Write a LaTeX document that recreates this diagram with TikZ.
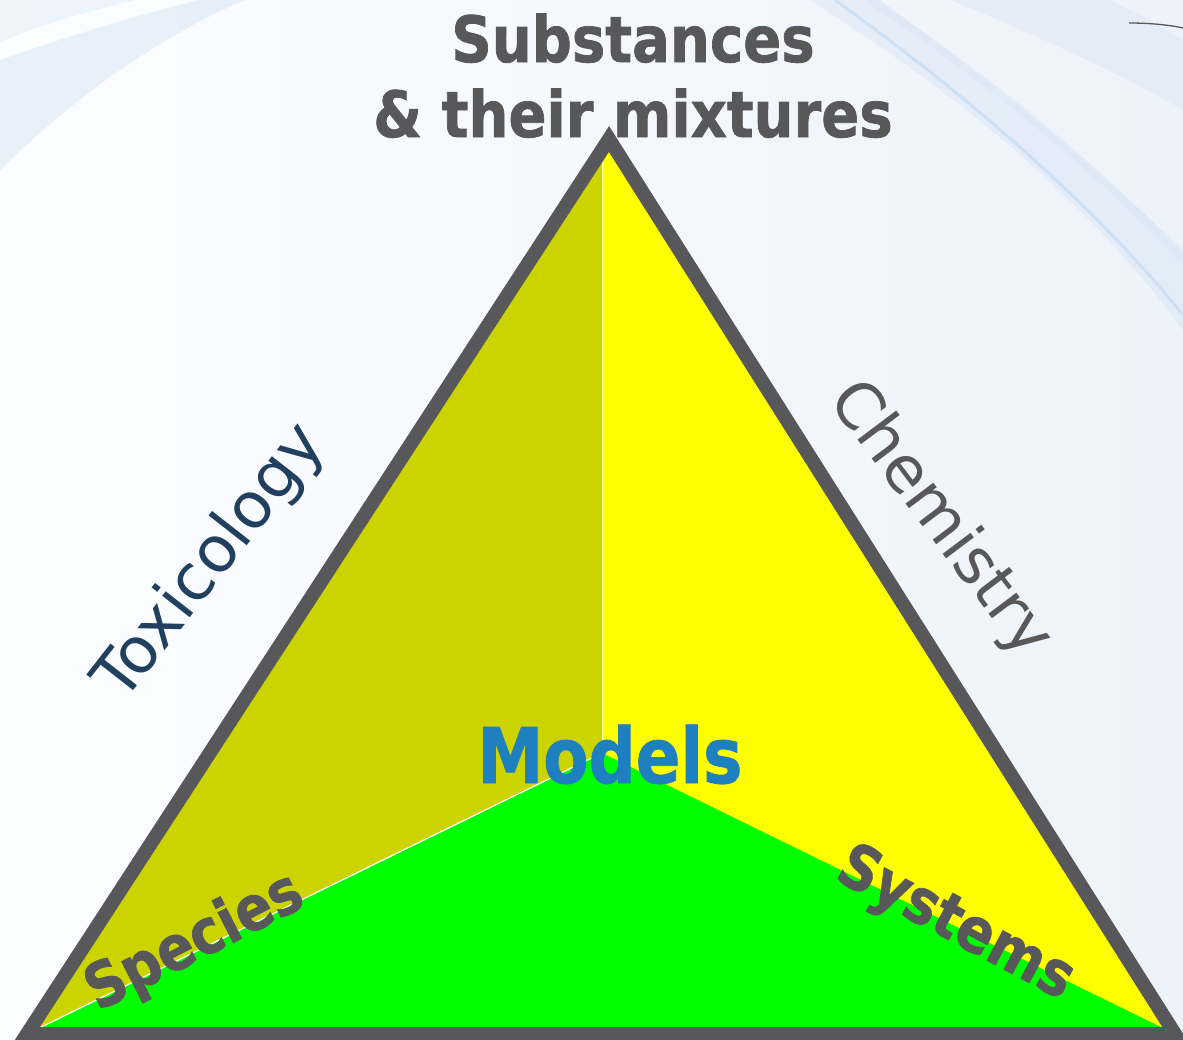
\documentclass[tikz,border=0pt]{standalone}
\usepackage{fontspec}
\usepackage{graphicx}
\setmainfont{DejaVu Sans}
\newfontfamily\heavyfont{DejaVu Sans}[BoldFeatures={FakeBold=1.2}]
\definecolor{edgegray}{HTML}{58585A}
\definecolor{olive}{HTML}{CCD400}
\definecolor{faceyellow}{HTML}{FFFF00}
\definecolor{facegreen}{HTML}{00FF00}
\definecolor{modelblue}{HTML}{1F80C0}
\definecolor{toxnavy}{HTML}{213F5F}
\definecolor{bgleft}{HTML}{FCFDFF}
\definecolor{bgright}{HTML}{EDF3FA}
\definecolor{swoosh}{HTML}{DCE8F6}
\definecolor{swooshdark}{HTML}{C6DBF2}
\newcommand{\narrow}[1]{\scalebox{0.88}[1]{#1}}
\tikzset{
  boldlabel/.style={font=\heavyfont\bfseries\fontsize{64}{75}\selectfont, text=edgegray, inner sep=0pt},
  sidelabel/.style={font=\fontsize{64}{70}\selectfont, inner sep=0pt},
  cornerlabel/.style={font=\heavyfont\bfseries\fontsize{62}{66}\selectfont, text=edgegray, inner sep=0pt},
}
\begin{document}
\begin{tikzpicture}[x=1bp,y=-1bp]
\useasboundingbox (0,0) rectangle (1183,1040);
% background
\shade[left color=bgleft, right color=bgright] (0,0) rectangle (1183,1040);
% swooshes top-left
\fill[swoosh, opacity=0.6] (0,60) .. controls (80,32) and (150,12) .. (200,0) -- (245,0) .. controls (150,40) and (60,110) .. (0,170) -- cycle;
\fill[swoosh, opacity=0.4] (0,0) -- (135,0) .. controls (85,12) and (40,25) .. (0,42) -- cycle;
% swooshes top-right
\fill[swoosh, opacity=0.6] (810,0) .. controls (950,90) and (1080,190) .. (1183,330) -- (1183,250) .. controls (1080,150) and (960,60) .. (880,0) -- cycle;
\fill[swoosh, opacity=0.5] (950,0) .. controls (1050,40) and (1130,80) .. (1183,110) -- (1183,40) .. controls (1150,20) .. (1110,0) -- cycle;
\draw[swooshdark, line width=3, opacity=0.7] (835,0) .. controls (960,90) and (1090,200) .. (1183,315);
\draw[swoosh, line width=8, opacity=0.6] (870,0) .. controls (990,80) and (1100,170) .. (1183,260);
% small arc top right
\draw[edgegray, line width=1.3] (1129,23) .. controls (1150,23) and (1170,25) .. (1183,28);
% triangle faces
\coordinate (A) at (609,139);
\coordinate (B) at (27,1034);
\coordinate (C) at (1175,1034);
\coordinate (M) at (602,753);
\begin{scope}
  \clip (A) -- (B) -- (C) -- cycle;
  \fill[faceyellow] (A) -- (B) -- (C) -- cycle;
  \fill[olive] (602,100) -- (602,753) -- (B) -- (0,1040) -- (0,100) -- cycle;
  \fill[facegreen] (B) -- (M) -- (C) -- cycle;
  \draw[white, line width=1.2] (B) -- (M);
  \draw[white!60!faceyellow, line width=1] (602,100) -- (M);
\end{scope}
\draw[edgegray, line width=14, line join=miter, miter limit=10] (A) -- (B) -- (C) -- cycle;
% labels
\node[boldlabel, anchor=base] (sub) at (633,62) {\narrow{Substances}};
\node[boldlabel, anchor=base] (mix) at (633,137) {\narrow{\& their mixtures}};
\node[sidelabel, text=toxnavy, rotate=52] (tox) at (211,563) {Toxicology};
\node[sidelabel, text=edgegray, rotate=-53] (chem) at (940,520) {Chemistry};
\node[font=\heavyfont\bfseries\fontsize{77}{80}\selectfont, text=modelblue, inner sep=0pt, anchor=base] (models) at (610,783) {\scalebox{0.86}[1]{Models}};
\node[cornerlabel, rotate=27] (spec) at (195,943) {\narrow{Species}};
\node[cornerlabel, rotate=-28] (sys) at (955,925) {\narrow{Systems}};
\end{tikzpicture}
\end{document}
